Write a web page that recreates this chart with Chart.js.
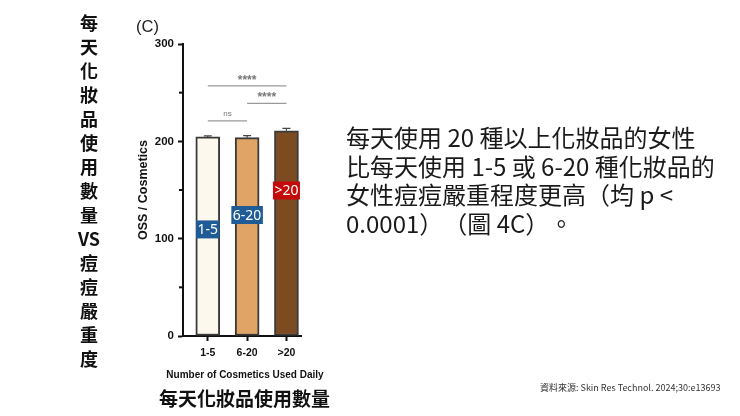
<!DOCTYPE html>
<html>
<head>
<meta charset="utf-8">
<script src="https://cdn.jsdelivr.net/npm/chart.js@4.4.1/dist/chart.umd.min.js"></script>
<style>
  html, body { margin: 0; padding: 0; background: #fff; }
  #wrap { position: relative; width: 740px; height: 416px; overflow: hidden; }
  #chart { position: absolute; left: 0; top: 0; }
  .txt { position: absolute; white-space: nowrap; color: #111; font-family: "Noto Sans CJK TC", "Noto Sans", sans-serif; text-spacing-trim: space-all; }
  #sideTitle { left: 69px; top: 10px; width: 40px; text-align: center; font-size: 18px; line-height: 24px; font-weight: 700; }
  #panel { left: 136px; top: 16px; font-family: "Liberation Sans", Arial, sans-serif; font-size: 16.5px; line-height: 20px; color: #222; }
  #xTitle { left: 145px; width: 200px; text-align: center; top: 369px; font-family: "Liberation Sans", Arial, sans-serif; font-size: 10px; line-height: 12px; font-weight: 700; }
  #bottomTitle { left: 159px; top: 386px; font-size: 19px; line-height: 24px; font-weight: 700; }
  #note { left: 346px; top: 123px; font-size: 24px; line-height: 28.5px; color: #1a1a1a; }
  #source { left: 540px; top: 382px; font-size: 9px; line-height: 12px; color: #333; }
</style>
</head>
<body>
<div id="wrap">
  <canvas id="chart" width="740" height="416"></canvas>
  <div class="txt" id="sideTitle">每<br>天<br>化<br>妝<br>品<br>使<br>用<br>數<br>量<br>VS<br>痘<br>痘<br>嚴<br>重<br>度</div>
  <div class="txt" id="panel">(C)</div>
  <div class="txt" id="xTitle">Number of Cosmetics Used Daily</div>
  <div class="txt" id="bottomTitle">每天化妝品使用數量</div>
  <div class="txt" id="note">每天使用 20 種以上化妝品的女性<br>比每天使用 1-5 或 6-20 種化妝品的<br>女性痘痘嚴重程度更高（均 p &lt;<br>0.0001）（圖 4C）。</div>
  <div class="txt" id="source">資料來源: Skin Res Technol. 2024;30:e13693</div>
</div>
<script>
// values
const categories = ['1-5', '6-20', '>20'];
const oss = [204.5, 203.8, 210.8];
const sem = [1.2, 2.0, 2.5];
const yTicks = [0, 100, 200, 300];
const sigPairs = [[0, 2, '****'], [1, 2, '****'], [0, 1, 'ns']];

const barColors = ['#fdf8ee', '#e0a466', '#7c4b22'];
const tagColors = ['#1f5b96', '#1f5b96', '#c40a0a'];

const axisFont = { family: '"Liberation Sans", Arial, sans-serif', weight: 'bold' };

// error bars, minor ticks, significance brackets and group tags
const extras = {
  id: 'extras',
  afterDatasetsDraw(chart, args, opts) {
    const ctx = chart.ctx;
    const x = chart.scales.x;
    const y = chart.scales.y;
    ctx.save();

    // error bars (upper only)
    ctx.strokeStyle = '#444';
    ctx.lineWidth = 1.2;
    oss.forEach((v, i) => {
      const px = x.getPixelForValue(i);
      const top = y.getPixelForValue(v + sem[i]);
      const base = y.getPixelForValue(v);
      ctx.beginPath();
      ctx.moveTo(px, base);
      ctx.lineTo(px, top);
      ctx.moveTo(px - 4, top);
      ctx.lineTo(px + 4, top);
      ctx.stroke();
    });

    // minor ticks on y axis
    ctx.strokeStyle = '#111';
    ctx.lineWidth = 2;
    [50, 150, 250].forEach(v => {
      const py = y.getPixelForValue(v);
      ctx.beginPath();
      ctx.moveTo(chart.chartArea.left - 4, py);
      ctx.lineTo(chart.chartArea.left, py);
      ctx.stroke();
    });

    // significance brackets
    sigPairs.forEach((p, k) => {
      const py = y.getPixelForValue(opts.sigLevels[k]);
      const x1 = x.getPixelForValue(p[0]);
      const x2 = x.getPixelForValue(p[1]);
      ctx.strokeStyle = '#9a9a9a';
      ctx.lineWidth = 1.2;
      ctx.beginPath();
      ctx.moveTo(x1, py);
      ctx.lineTo(x2, py);
      ctx.stroke();
      ctx.fillStyle = '#777';
      ctx.textAlign = 'center';
      ctx.textBaseline = 'alphabetic';
      ctx.font = p[2] === 'ns' ? '8px "Liberation Sans"' : 'bold 12px "Liberation Sans"';
      ctx.fillText(p[2], (x1 + x2) / 2, py - (p[2] === 'ns' ? 5 : 2));
    });

    // group tags inside the bars
    ctx.font = '14px "Noto Sans"';
    ctx.textAlign = 'center';
    ctx.textBaseline = 'middle';
    categories.forEach((c, i) => {
      const px = x.getPixelForValue(i);
      const py = y.getPixelForValue(opts.tagLevels[i]);
      const w = ctx.measureText(c).width + 3;
      ctx.fillStyle = tagColors[i];
      ctx.fillRect(px - w / 2, py - 9, w, 18);
      ctx.fillStyle = '#fff';
      ctx.fillText(c, px, py + 1);
    });

    ctx.restore();
  }
};

const ctx = document.getElementById('chart').getContext('2d');
new Chart(ctx, {
  type: 'bar',
  data: {
    datasets: [{
      data: categories.map((c, i) => ({ x: i, y: oss[i] })),
      backgroundColor: barColors,
      borderColor: '#3a3a3a',
      borderWidth: 2,
      borderSkipped: false,
      barThickness: 24
    }]
  },
  options: {
    responsive: false,
    animation: false,
    events: [],
    layout: { padding: { left: 123, top: 44, right: 439, bottom: 0 } },
    plugins: {
      legend: { display: false },
      tooltip: { enabled: false },
      extras: { sigLevels: [257, 239, 221], tagLevels: [109.5, 124.3, 149.5] }
    },
    scales: {
      x: {
        type: 'linear',
        offset: false,
        min: -0.63,
        max: 2.37,
        afterBuildTicks: s => { s.ticks = categories.map((c, i) => ({ value: i })); },
        afterFit: s => { s.height = 80; },
        ticks: {
          callback: v => categories[v],
          color: '#111',
          font: { ...axisFont, size: 10.5 },
          padding: 6,
          maxRotation: 0
        },
        grid: { offset: false, drawOnChartArea: false, tickLength: 5, tickWidth: 2, tickColor: '#111' },
        border: { color: '#111', width: 2 }
      },
      y: {
        min: 0,
        max: 300,
        afterBuildTicks: s => { s.ticks = yTicks.map(v => ({ value: v })); },
        afterFit: s => { s.width = 60; },
        ticks: { color: '#111', font: { ...axisFont, size: 11.5 }, padding: 4 },
        grid: { drawOnChartArea: false, tickLength: 5, tickWidth: 2, tickColor: '#111' },
        border: { color: '#111', width: 2 },
        title: {
          display: true,
          text: 'OSS / Cosmetics',
          color: '#111',
          font: { ...axisFont, size: 12.5 },
          padding: { top: 13 }
        }
      }
    }
  },
  plugins: [extras]
});
</script>
</body>
</html>
